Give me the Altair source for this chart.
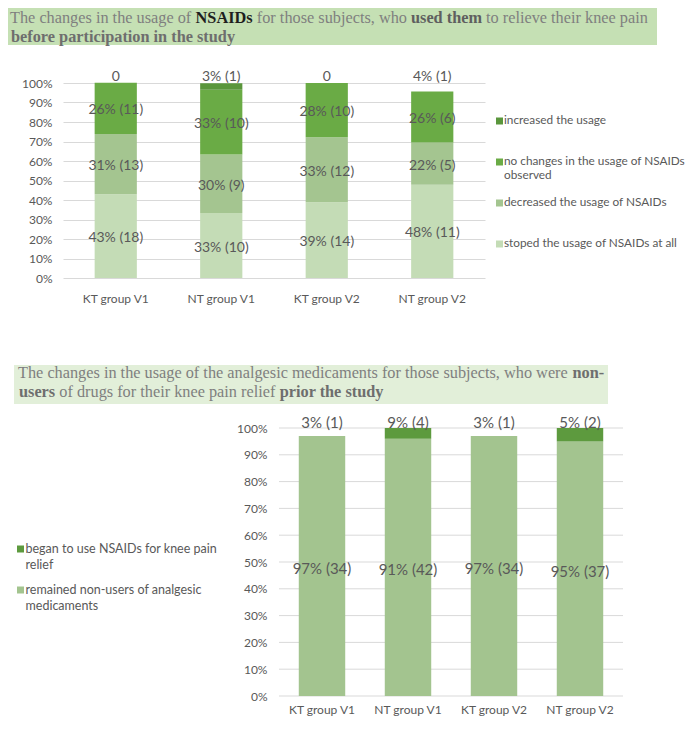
import altair as alt
import pandas as pd

# ---------------- data ----------------
groups = ["KT group V1", "NT group V1", "KT group V2", "NT group V2"]
ticks = [0, 10, 20, 30, 40, 50, 60, 70, 80, 90, 100]

top_series = [
    "stoped the usage of NSAIDs at all",
    "decreased the usage of NSAIDs",
    "no changes in the usage of NSAIDs observed",
    "increased the usage",
]
stoped = [42.9, 33.3, 38.9, 47.8]
decreased = [31.0, 30.0, 33.3, 21.7]
no_change = [26.2, 33.3, 27.8, 26.1]
increased = [0.0, 3.3, 0.0, 0.0]
stoped_lbl = ["43% (18)", "33% (10)", "39% (14)", "48% (11)"]
decreased_lbl = ["31% (13)", "30% (9)", "33% (12)", "22% (5)"]
no_change_lbl = ["26% (11)", "33% (10)", "28% (10)", "26% (6)"]
increased_lbl = ["0", "3% (1)", "0", "4% (1)"]
top_legend_lines = [
    ["stoped the usage of NSAIDs at all"],
    ["decreased the usage of NSAIDs"],
    ["no changes in the usage of NSAIDs", "observed"],
    ["increased the usage"],
]
top_colors = ["#c4dcb6", "#a4c590", "#6aab45", "#5a963c"]

bottom_series = [
    "remained non-users of analgesic medicaments",
    "began to use NSAIDs for knee pain relief",
]
remained = [97, 96, 97, 95]
began = [0, 4, 0, 5]
remained_lbl = ["97% (34)", "91% (42)", "97% (34)", "95% (37)"]
began_lbl = ["3% (1)", "9% (4)", "3% (1)", "5% (2)"]
bottom_legend_lines = [
    ["remained non-users of analgesic", "medicaments"],
    ["began to use NSAIDs for knee pain", "relief"],
]
bottom_colors = ["#a3c48f", "#5d9a3e"]

# title runs: (text, bold, colour)
top_title_l1 = [
    ("The changes in the usage of", False, "#7f7f7f"),
    ("NSAIDs", True, "#1e1e1e"),
    ("for those subjects, who", False, "#7f7f7f"),
    ("used them", True, "#5f5f5f"),
    ("to relieve their knee pain", False, "#7f7f7f"),
]
top_title_l2 = [("before participation in the study", True, "#6e6e6e")]
bot_title_l1 = [
    ("The changes in the usage of the analgesic medicaments for those subjects, who were", False, "#7f7f7f"),
    ("non-", True, "#6e6e6e"),
]
bot_title_l2 = [
    ("users", True, "#6e6e6e"),
    ("of drugs for their knee pain relief", False, "#7f7f7f"),
    ("prior the study", True, "#6e6e6e"),
]

# ---------------- layout (pixels, relative to each plot origin) ----------------
top_title_x1 = [-53, 132.6, 193.8, 348, 423]
top_title_x2 = [-52]
bot_title_x1 = [-45, 509.5]
bot_title_x2 = [-44, -3.7, 216.7]

FONT = "Lato"
SERIF = "Liberation Serif"
LBL = "#595959"
one = pd.DataFrame({"k": [0]})


def stack_df(names, vals_list, lbl_list, top_index):
    rows = []
    for o, (name, vals, lbls) in enumerate(zip(names, vals_list, lbl_list)):
        for g, v, l in zip(groups, vals, lbls):
            rows.append({"group": g, "series": name, "value": v, "label": l,
                         "ord": o, "place": "top" if o == top_index else "in"})
    return pd.DataFrame(rows)


def runs(items, xs, y, size=16.3):
    layers = []
    for (text, bold, col), x in zip(items, xs):
        layers.append(
            alt.Chart(one).mark_text(font=SERIF, fontSize=size,
                                     fontWeight="bold" if bold else "normal",
                                     align="left", baseline="middle", color=col)
            .encode(x=alt.value(x), y=alt.value(y), text=alt.value(text))
        )
    return layers


def box(x0, x1, y0, y1, col, opacity=1.0):
    return alt.Chart(one).mark_rect(color=col, opacity=opacity).encode(
        x=alt.value(x0), x2=alt.value(x1), y=alt.value(y0), y2=alt.value(y1))


y_scale = alt.Scale(domain=[0, 100], nice=False)
label_expr = "datum.value + '%'"

# ---------------- top chart ----------------
top_df = stack_df(top_series, [stoped, decreased, no_change, increased],
                  [stoped_lbl, decreased_lbl, no_change_lbl, increased_lbl], 3)
top_color = alt.Scale(domain=top_series, range=top_colors)
x_top_axis = alt.Axis(title=None, labelPadding=15, ticks=False, tickSize=0,
                      domain=False, labelAngle=0, labelOverlap=False)
x_top_scale = alt.Scale(paddingInner=0.6, paddingOuter=0.3)
y_top_axis = alt.Axis(title=None, values=ticks, labelExpr=label_expr, grid=True,
                      gridColor="#d9d9d9", domain=False, ticks=False, tickSize=0,
                      labelPadding=11, labelOverlap=False)


def xt():
    return alt.X("group:N", sort=groups, scale=x_top_scale, axis=x_top_axis)


t_stack = alt.Chart(top_df).transform_stack(
    stack="value", groupby=["group"], as_=["y0", "y1"],
    sort=[alt.SortField("ord", order="ascending")]
).transform_calculate(mid="(datum.y0 + datum.y1) / 2", top_y="100")

t_bars = t_stack.mark_bar().encode(
    x=xt(), y=alt.Y("y0:Q", scale=y_scale, axis=y_top_axis), y2="y1:Q",
    color=alt.Color("series:N", scale=top_color, legend=None))
t_in = t_stack.transform_filter("datum.place == 'in'").mark_text(
    font=FONT, fontSize=14, color=LBL, dy=2).encode(
    x=xt(), y=alt.Y("mid:Q", scale=y_scale, axis=y_top_axis), text="label:N")
t_top = t_stack.transform_filter("datum.place == 'top'").mark_text(
    font=FONT, fontSize=14, color=LBL, dy=-6).encode(
    x=xt(), y=alt.Y("top_y:Q", scale=y_scale, axis=y_top_axis), text="label:N")

t_leg_df = pd.DataFrame({"series": top_series, "lines": top_legend_lines,
                         "i": [3, 2, 1, 0]})
t_leg = alt.Chart(t_leg_df).transform_calculate(ly="38 + 41 * datum.i")
t_leg_sq = t_leg.mark_square(size=49, opacity=1).encode(
    x=alt.value(436.5), y=alt.Y("ly:Q", scale=None),
    color=alt.Color("series:N", scale=top_color, legend=None))
t_leg_tx = t_leg.mark_text(font=FONT, fontSize=11.8, color=LBL, align="left",
                           baseline="top", dy=-6, lineHeight=14).encode(
    x=alt.value(441), y=alt.Y("ly:Q", scale=None), text="lines:N")

top_chart = alt.layer(
    box(-55, 594, -75, -38, "#c5e0b4"),
    *runs(top_title_l1, top_title_x1, -65),
    *runs(top_title_l2, top_title_x2, -46.5),
    box(0, 1, 229, 230, "#ffffff", 0),
    t_bars, t_in, t_top, t_leg_sq, t_leg_tx,
).properties(width=422, height=195)

# ---------------- bottom chart ----------------
bot_df = stack_df(bottom_series, [remained, began], [remained_lbl, began_lbl], 1)
bot_color = alt.Scale(domain=bottom_series, range=bottom_colors)
x_bot_axis = alt.Axis(title=None, labelPadding=8, ticks=False, tickSize=0,
                      domain=False, labelAngle=0, labelOverlap=False)
x_bot_scale = alt.Scale(range=[216, 560], paddingInner=0.46, paddingOuter=0.23)
y_bot_axis = alt.Axis(title=None, values=ticks, labelExpr=label_expr, grid=False,
                      domain=False, ticks=False, tickSize=0, labelPadding=12,
                      offset=-216, labelOverlap=False)


def xb():
    return alt.X("group:N", sort=groups, scale=x_bot_scale, axis=x_bot_axis)


b_grid = alt.Chart(pd.DataFrame({"t": ticks})).mark_rule(
    color="#d9d9d9", strokeWidth=1).encode(
    y=alt.Y("t:Q", scale=y_scale, axis=y_bot_axis),
    x=alt.value(216), x2=alt.value(560))

b_stack = alt.Chart(bot_df).transform_stack(
    stack="value", groupby=["group"], as_=["y0", "y1"],
    sort=[alt.SortField("ord", order="ascending")]
).transform_calculate(mid="(datum.y0 + datum.y1) / 2", top_y="100")

b_bars = b_stack.mark_bar().encode(
    x=xb(), y=alt.Y("y0:Q", scale=y_scale, axis=y_bot_axis), y2="y1:Q",
    color=alt.Color("series:N", scale=bot_color, legend=None))
b_in = b_stack.transform_filter("datum.place == 'in'").mark_text(
    font=FONT, fontSize=15, color=LBL, dy=3).encode(
    x=xb(), y=alt.Y("mid:Q", scale=y_scale, axis=y_bot_axis), text="label:N")
b_top = b_stack.transform_filter("datum.place == 'top'").mark_text(
    font=FONT, fontSize=15, color=LBL, dy=-5).encode(
    x=xb(), y=alt.Y("top_y:Q", scale=y_scale, axis=y_bot_axis),
    text="label:N")

b_leg_df = pd.DataFrame({"series": bottom_series, "lines": bottom_legend_lines,
                         "i": [1, 0]})
b_leg = alt.Chart(b_leg_df).transform_calculate(ly="121 + 41 * datum.i")
b_leg_sq = b_leg.mark_square(size=49, opacity=1).encode(
    x=alt.value(-42.5), y=alt.Y("ly:Q", scale=None),
    color=alt.Color("series:N", scale=bot_color, legend=None))
b_leg_tx = b_leg.mark_text(font=FONT, fontSize=12.5, color=LBL, align="left",
                           baseline="top", dy=-6, lineHeight=15.5).encode(
    x=alt.value(-37.5), y=alt.Y("ly:Q", scale=None), text="lines:N")

bottom_chart = alt.layer(
    box(-55, -54, 0, 1, "#ffffff", 0),
    box(0, 1, 292, 293, "#ffffff", 0),
    box(-49, 545, -63, -24, "#e2efd9"),
    *runs(bot_title_l1, bot_title_x1, -55),
    *runs(bot_title_l2, bot_title_x2, -36),
    b_grid, b_bars, b_in, b_top, b_leg_sq, b_leg_tx,
).properties(width=560, height=268)

chart = alt.vconcat(top_chart, bottom_chart, spacing=52).resolve_scale(
    color="independent"
).properties(
    padding=0
).configure_view(stroke=None).configure_axis(
    labelFont=FONT, labelColor=LBL, labelFontSize=12
)

chart.save("out.html", embed_options={"renderer": "svg", "actions": False})
